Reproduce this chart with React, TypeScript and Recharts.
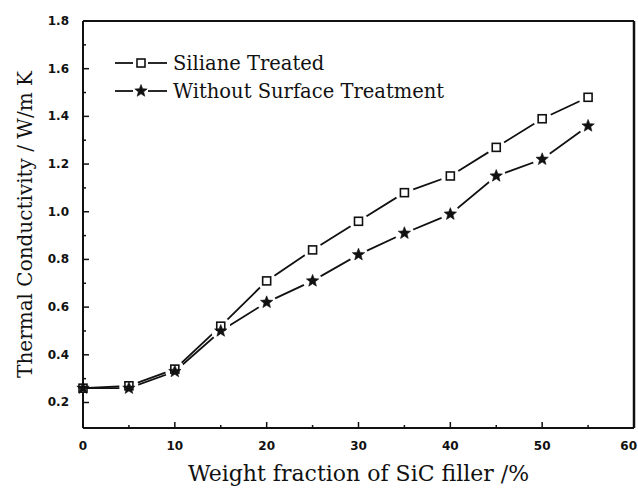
import { ComposedChart, Line, Scatter, XAxis, YAxis, Label, ReferenceLine } from "recharts";

// SiC weight fraction (%) and measured thermal conductivity (W/m K)
const weightFraction = [0, 5, 10, 15, 20, 25, 30, 35, 40, 45, 50, 55];
const silaneTreated = [0.26, 0.27, 0.34, 0.52, 0.71, 0.84, 0.96, 1.08, 1.15, 1.27, 1.39, 1.48];
const untreated = [0.26, 0.26, 0.33, 0.5, 0.62, 0.71, 0.82, 0.91, 0.99, 1.15, 1.22, 1.36];

const xTicks = [0, 5, 10, 15, 20, 25, 30, 35, 40, 45, 50, 55, 60];
const yTicks = [0.2, 0.3, 0.4, 0.5, 0.6, 0.7, 0.8, 0.9, 1.0, 1.1, 1.2, 1.3, 1.4, 1.5, 1.6, 1.7, 1.8];

const data = weightFraction.map((x, i) => ({ x, silane: silaneTreated[i], plain: untreated[i] }));

const W = 638;
const H = 489;
const X_DOMAIN = [0, 60];
const Y_DOMAIN = [0.093, 1.8];

const INK = "#111";
const SERIF = "'DejaVu Serif', 'Liberation Serif', serif";
const TICK_FONT = { fontFamily: "'DejaVu Sans', sans-serif", fontWeight: 700, fontSize: 12, fill: INK };

function starPath(cx: number, cy: number, r: number, ri: number) {
  let d = "";
  for (let k = 0; k < 10; k++) {
    const rad = k % 2 === 0 ? r : ri;
    const a = -Math.PI / 2 + (k * Math.PI) / 5;
    d += (k === 0 ? "M" : "L") + (cx + rad * Math.cos(a)).toFixed(2) + "," + (cy + rad * Math.sin(a)).toFixed(2);
  }
  return d + "Z";
}

const Square = ({ cx, cy }: { cx: number; cy: number }) => (
  <rect x={cx - 4} y={cy - 4} width={8} height={8} fill="#fff" stroke={INK} strokeWidth={1.6} />
);
const Star = ({ cx, cy }: { cx: number; cy: number }) => (
  <path d={starPath(cx, cy, 6.5, 2.8)} fill={INK} stroke={INK} strokeWidth={0.6} />
);

// white ring under each marker so the line stops short of it (skipped on the y axis itself)
const haloShape = (p: any) =>
  p.payload?.x === 0 ? <g /> : <circle cx={p.cx} cy={p.cy} r={9.5} fill="#fff" />;
const squareShape = (p: any) => <Square cx={p.cx} cy={p.cy} />;
const starShape = (p: any) => <Star cx={p.cx} cy={p.cy} />;

function XTick({ x, y, payload }: any) {
  const major = payload.value % 10 === 0;
  const last = payload.value === 60;
  return (
    <g>
      <line x1={x} x2={x} y1={y} y2={y - (major ? 6 : 3)} stroke={INK} strokeWidth={1.5} />
      {major && (
        <text x={last ? x + 3 : x} y={y + 22} textAnchor={last ? "end" : "middle"} style={TICK_FONT}>
          {payload.value}
        </text>
      )}
    </g>
  );
}

function YTick({ x, y, payload }: any) {
  const major = Math.round(payload.value * 10) % 2 === 0;
  return (
    <g>
      <line x1={x} x2={x + (major ? 6 : 3)} y1={y} y2={y} stroke={INK} strokeWidth={1.5} />
      {major && (
        <text x={x - 14} y={y + 4} textAnchor="end" style={TICK_FONT}>
          {payload.value.toFixed(1)}
        </text>
      )}
    </g>
  );
}

const legendRows = [
  { label: "Siliane Treated", marker: "square" },
  { label: "Without Surface Treatment", marker: "star" },
];

function LegendBox() {
  return (
    <div style={{ position: "absolute", left: 112, top: 49 }}>
      {legendRows.map((r) => (
        <div key={r.label} style={{ display: "flex", alignItems: "center", height: 28 }}>
          <svg width={58} height={20}>
            <line x1={3} x2={21} y1={10} y2={10} stroke={INK} strokeWidth={1.8} />
            <line x1={36} x2={55} y1={10} y2={10} stroke={INK} strokeWidth={1.8} />
            {r.marker === "square" ? <Square cx={29} cy={10} /> : <Star cx={29} cy={10} />}
          </svg>
          <span style={{ marginLeft: 3, fontFamily: SERIF, fontSize: 19.5, color: INK, whiteSpace: "nowrap" }}>
            {r.label}
          </span>
        </div>
      ))}
    </div>
  );
}

export default function App() {
  return (
    <div style={{ position: "absolute", left: 0, top: 0, width: W, height: H, background: "#fff" }}>
      {/* base layer: frame, axes and connecting lines */}
      <ComposedChart width={W} height={H} data={data} margin={{ top: 21, right: 4, bottom: 0, left: 0 }}>
        <XAxis
          dataKey="x"
          type="number"
          domain={X_DOMAIN}
          ticks={xTicks}
          interval={0}
          height={61}
          tickSize={0}
          tickMargin={0}
          tickLine={false}
          tick={<XTick />}
          axisLine={{ stroke: INK, strokeWidth: 2 }}
        >
          <Label
            value="Weight fraction of SiC filler /%"
            position="insideBottom"
            offset={8}
            style={{ fontFamily: SERIF, fontSize: 22, fill: INK }}
          />
        </XAxis>
        <YAxis
          type="number"
          domain={Y_DOMAIN}
          ticks={yTicks}
          interval={0}
          width={83}
          tickSize={0}
          tickMargin={0}
          tickLine={false}
          tick={<YTick />}
          axisLine={{ stroke: INK, strokeWidth: 2 }}
          allowDataOverflow
        >
          <Label
            value="Thermal Conductivity / W/m K"
            angle={-90}
            position="insideLeft"
            offset={25}
            style={{ fontFamily: SERIF, fontSize: 20, fill: INK, textAnchor: "middle" }}
          />
        </YAxis>
        <ReferenceLine y={1.8} stroke={INK} strokeWidth={2} ifOverflow="visible" />
        <ReferenceLine x={60} stroke={INK} strokeWidth={2.5} ifOverflow="visible" />

        <Line dataKey="silane" type="linear" stroke={INK} strokeWidth={1.8} dot={false} activeDot={false} isAnimationActive={false} legendType="none" />
        <Line dataKey="plain" type="linear" stroke={INK} strokeWidth={1.8} dot={false} activeDot={false} isAnimationActive={false} legendType="none" />
      </ComposedChart>

      {/* marker layer on top, same scales, so the white rings cut the lines */}
      <div style={{ position: "absolute", left: 0, top: 0 }}>
        <ComposedChart width={W} height={H} data={data} margin={{ top: 21, right: 4, bottom: 61, left: 83 }}>
          <XAxis dataKey="x" type="number" domain={X_DOMAIN} hide />
          <YAxis type="number" domain={Y_DOMAIN} allowDataOverflow hide />
          <Scatter dataKey="silane" shape={haloShape} isAnimationActive={false} legendType="none" />
          <Scatter dataKey="plain" shape={haloShape} isAnimationActive={false} legendType="none" />
          <Scatter dataKey="silane" shape={squareShape} isAnimationActive={false} legendType="none" />
          <Scatter dataKey="plain" shape={starShape} isAnimationActive={false} legendType="none" />
        </ComposedChart>
      </div>

      <LegendBox />
    </div>
  );
}
